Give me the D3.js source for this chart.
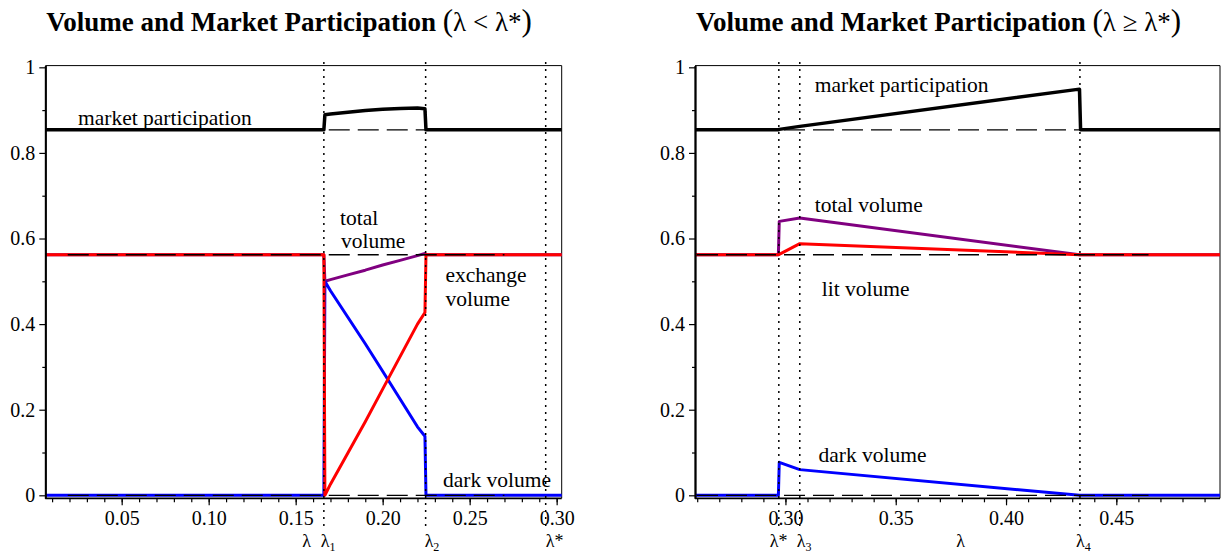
<!DOCTYPE html>
<html>
<head>
<meta charset="utf-8">
<script src="https://cdn.jsdelivr.net/npm/d3@7"></script>
<style>
  body { margin: 0; background: #fff; }
  svg text { font-family: "Liberation Serif", "Times New Roman", serif; fill: #000; }
</style>
</head>
<body>
<svg id="chart" width="1221" height="556"></svg>
<script>
(function () {
  'use strict';

  // ---- left panel: lambda < lambda* ----
  var lamL   = [0.0061, 0.1662, 0.1668, 0.170, 0.180, 0.190, 0.200, 0.210, 0.220, 0.2243, 0.2249, 0.3029];
  var partL  = [0.854, 0.854, 0.889, 0.891, 0.895, 0.899, 0.902, 0.904, 0.905, 0.903, 0.854, 0.854];
  var totalL = [0.562, 0.562, 0.500, 0.504, 0.515, 0.526, 0.538, 0.549, 0.560, 0.565, 0.562, 0.562];
  var exchL  = [0.562, 0.562, 0.000, 0.026, 0.099, 0.172, 0.248, 0.324, 0.400, 0.427, 0.562, 0.562];
  var darkL  = [0.000, 0.000, 0.500, 0.478, 0.416, 0.354, 0.290, 0.225, 0.160, 0.138, 0.000, 0.000];

  // ---- right panel: lambda >= lambda* ----
  var lamR   = [0.259, 0.2968, 0.2972, 0.3065, 0.4333, 0.4338, 0.497];
  var partR  = [0.854, 0.854, 0.855, 0.862, 0.949, 0.854, 0.854];
  var totalR = [0.562, 0.562, 0.640, 0.648, 0.562, 0.562, 0.562];
  var litR   = [0.562, 0.562, 0.563, 0.588, 0.562, 0.562, 0.562];
  var darkR  = [0.000, 0.000, 0.077, 0.060, 0.000, 0.000, 0.000];

  // no-trade reference levels (dashed)
  var refLevels = [0.854, 0.562, 0];

  // tick values
  var xMajorL = [0.05, 0.10, 0.15, 0.20, 0.25, 0.30];
  var xMajorR = [0.30, 0.35, 0.40, 0.45];
  var yMajor  = [0, 0.2, 0.4, 0.6, 0.8, 1];
  var yMinor  = [0.1, 0.3, 0.5, 0.7, 0.9];

  // thresholds: [value, name, subscript]
  var thresholdsL = [[0.1662, 'λ', '1'], [0.2247, 'λ', '2'], [0.2937, 'λ*', '']];
  var thresholdsR = [[0.2970, 'λ*', ''], [0.3065, 'λ', '3'], [0.4335, 'λ', '4']];

  // text labels: [text, lambda, value]
  var notesL = [['market participation', 0.0249, 0.865], ['total', 0.1755, 0.6315], ['volume', 0.176, 0.5778],
                ['exchange', 0.2361, 0.4984], ['volume', 0.2361, 0.4423], ['dark volume', 0.2347, 0.0194]];
  var notesR = [['market participation', 0.3133, 0.9423], ['total volume', 0.3133, 0.6617],
                ['lit volume', 0.3165, 0.4657], ['dark volume', 0.3150, 0.0778]];

  var svg = d3.select('#chart');
  var serif = '"Liberation Serif", "Times New Roman", serif';

  var drawPanel = function (cfg) {
    var x = d3.scaleLinear().domain(cfg.xDomain).range(cfg.xRange);
    var y = d3.scaleLinear().domain([-0.007, 1.004]).range([498.3, 65.6]);
    var x0 = cfg.xRange[0], x1 = cfg.xRange[1];
    var yb = y(-0.007), yt = y(1.004);

    var g = svg.append('g').attr('class', 'panel');

    // title
    var title = g.append('text')
      .attr('x', x0 + 1)
      .attr('y', 31)
      .style('font-size', '27px');
    title.append('tspan').style('font-weight', 'bold').text('Volume and Market Participation ');
    title.append('tspan').style('font-size', '31px').text('(');
    title.append('tspan').text(cfg.titleMath);
    title.append('tspan').style('font-size', '31px').text(')');

    // frame top + right
    g.append('line').attr('x1', x0).attr('x2', x1).attr('y1', yt).attr('y2', yt)
      .style('stroke', '#000').style('stroke-width', 1);
    g.append('line').attr('x1', x1).attr('x2', x1).attr('y1', yt).attr('y2', yb)
      .style('stroke', '#000').style('stroke-width', 1);

    // series
    var line = d3.line()
      .x(function (d) { return x(d[0]); })
      .y(function (d) { return y(d[1]); });

    cfg.series.forEach(function (s) {
      var pts = cfg.lam.map(function (l, i) { return [l, s.values[i]]; });
      g.append('path')
        .datum(pts)
        .attr('d', line)
        .style('fill', 'none')
        .style('stroke', s.color)
        .style('stroke-width', s.width)
        .style('stroke-linejoin', 'round');
    });

    // dashed reference levels
    refLevels.forEach(function (v) {
      g.append('line')
        .attr('x1', x(cfg.dashRange[0])).attr('x2', x(cfg.dashRange[1]))
        .attr('y1', y(v)).attr('y2', y(v))
        .style('stroke', '#000')
        .style('stroke-width', 1.3)
        .style('stroke-dasharray', '21,8');
    });

    // dotted thresholds
    cfg.thresholds.forEach(function (t) {
      g.append('line')
        .attr('x1', x(t[0])).attr('x2', x(t[0]))
        .attr('y1', 62).attr('y2', 530)
        .style('stroke', '#000')
        .style('stroke-width', 1.5)
        .style('stroke-dasharray', '2,5');
    });

    // axes
    var xAxis = d3.axisBottom(x).tickValues(cfg.xMajor).tickSize(7).tickPadding(6)
      .tickFormat(d3.format('.2f'));
    var xMinor = d3.axisBottom(x).tickValues(d3.range(cfg.minorFrom, cfg.minorTo + 0.001, 0.01)
        .map(function (d) { return Math.round(d * 100) / 100; }))
      .tickSize(4).tickFormat('');
    var yAxis = d3.axisLeft(y).tickValues(yMajor).tickSizeInner(6).tickSizeOuter(0).tickPadding(4)
      .tickFormat(function (d) { return d === 0 || d === 1 ? String(d) : d3.format('.1f')(d); });
    var yMin = d3.axisLeft(y).tickValues(yMinor).tickSizeInner(3).tickSizeOuter(0).tickFormat('');

    var axG = [
      g.append('g').attr('transform', 'translate(0,' + yb + ')').call(xMinor),
      g.append('g').attr('transform', 'translate(0,' + yb + ')').call(xAxis),
      g.append('g').attr('transform', 'translate(' + x0 + ',0)').call(yMin),
      g.append('g').attr('transform', 'translate(' + x0 + ',0)').call(yAxis)
    ];
    axG.forEach(function (a) {
      a.attr('font-family', serif).attr('font-size', 20);
      a.select('.domain').style('stroke', '#000').style('stroke-width', 1.8);
      a.selectAll('.tick line').style('stroke', '#000').style('stroke-width', 1.2);
      a.selectAll('text').style('font-size', '20px').style('font-family', serif);
    });
    // the x domain line should span the full frame
    axG[1].select('.domain').attr('d', 'M' + x0 + ',0H' + x1);
    axG[0].select('.domain').remove();

    // threshold labels
    cfg.thresholds.forEach(function (t, i) {
      var tx = g.append('text')
        .attr('x', x(t[0]) + cfg.labelShift[i])
        .attr('y', 547)
        .style('font-size', '18px');
      tx.append('tspan').text(t[1]);
      if (t[2]) tx.append('tspan').attr('dy', 4).style('font-size', '12px').text(t[2]);
    });

    // axis title
    g.append('text')
      .attr('x', (x0 + x1) / 2 + 3)
      .attr('y', 547)
      .style('text-anchor', 'middle')
      .style('font-size', '18px')
      .text('λ');

    // curve labels
    cfg.notes.forEach(function (n) {
      g.append('text')
        .attr('x', x(n[1]))
        .attr('y', y(n[2]))
        .style('font-size', '21.5px')
        .text(n[0]);
    });
  };

  drawPanel({
    xDomain: [0.0061, 0.3029], xRange: [45.3, 561.7],
    titleMath: 'λ < λ*',
    lam: lamL,
    series: [
      { values: totalL, color: '#800080', width: 3 },
      { values: darkL, color: '#0000ff', width: 3 },
      { values: exchL, color: '#ff0000', width: 3 },
      { values: partL, color: '#000000', width: 3.5 }
    ],
    dashRange: [0.019, 0.27],
    thresholds: thresholdsL, labelShift: [-3, -1, 0],
    xMajor: xMajorL, minorFrom: 0.01, minorTo: 0.30,
    notes: notesL
  });

  drawPanel({
    xDomain: [0.259, 0.497], xRange: [695, 1220],
    titleMath: 'λ ≥ λ*',
    lam: lamR,
    series: [
      { values: totalR, color: '#800080', width: 3 },
      { values: darkR, color: '#0000ff', width: 3 },
      { values: litR, color: '#ff0000', width: 3 },
      { values: partR, color: '#000000', width: 3.5 }
    ],
    dashRange: [0.2599, 0.4646],
    thresholds: thresholdsR, labelShift: [-9, -3, -4],
    xMajor: xMajorR, minorFrom: 0.26, minorTo: 0.49,
    notes: notesR
  });
}());
</script>
</body>
</html>
